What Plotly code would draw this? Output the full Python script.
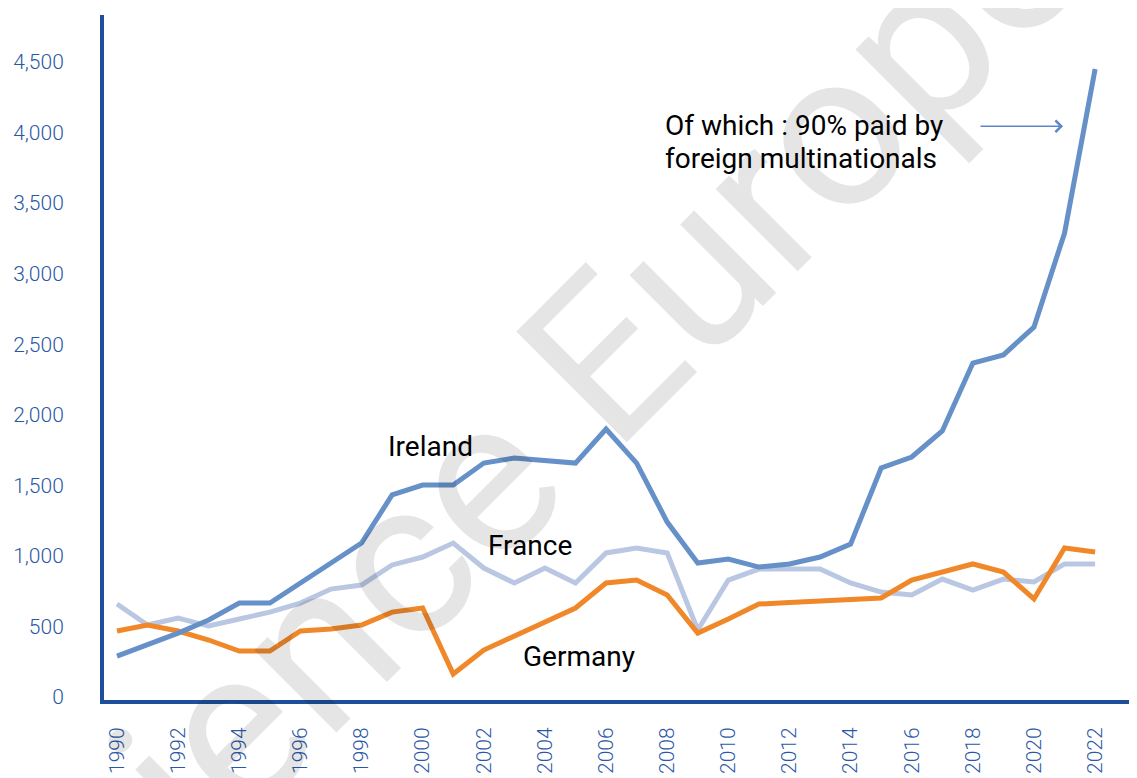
import plotly.graph_objects as go

years = list(range(1990, 2023))

ireland = [290, 368, 453, 546, 666, 666, 805, 950, 1091, 1432, 1502, 1502, 1658, 1694,
           1672, 1658, 1899, 1658, 1240, 950, 978, 921, 943, 992, 1084, 1623, 1701, 1885,
           2367, 2424, 2622, 3288, 4450]
france = [659, 510, 560, 503, 553, 602, 666, 765, 794, 936, 992, 1091, 914, 808,
          914, 808, 1021, 1056, 1021, 475, 829, 907, 907, 907, 808, 744, 723, 836,
          758, 836, 815, 943, 943]
germany = [468, 510, 468, 404, 326, 326, 468, 482, 510, 602, 631, 163, 333, 432,
           531, 631, 808, 829, 723, 453, 553, 659, 670, 680, 690, 702, 829, 886,
           943, 886, 695, 1056, 1028]

y_ticks = [0, 500, 1000, 1500, 2000, 2500, 3000, 3500, 4000, 4500]
x_ticks = list(range(1990, 2023, 2))

C_IRL = "#6690C8"
C_FRA = "#B9C7E3"
C_GER = "#F0882A"
AXIS = "#1F4E9A"
TICK = "#2B58A6"

# page body has an 8px margin; figure sized to fill the rest of the window
W, H = 1129, 770
ML, MR, MT, MB = 96, 0, 7, 78
PW, PH = W - ML - MR, H - MT - MB
OFF = 8

fig = go.Figure()
for name, vals, col in [("France", france, C_FRA), ("Germany", germany, C_GER), ("Ireland", ireland, C_IRL)]:
    fig.add_trace(go.Scatter(x=years, y=vals, mode="lines", name=name,
                             line=dict(color=col, width=5)))

txt_font = dict(family="Roboto", size=28, color="#000000")
ann = [
    dict(x=2000.27, y=1772, text="Ireland", showarrow=False, font=txt_font),
    dict(x=2003.5, y=1077, text="France", showarrow=False, font=txt_font),
    dict(x=2005.1, y=290, text="Germany", showarrow=False, font=txt_font),
    dict(x=2007.87, y=4049, text="Of which : 90% paid by", showarrow=False,
         xanchor="left", font=txt_font),
    dict(x=2007.87, y=3819, text="foreign multinationals", showarrow=False,
         xanchor="left", font=txt_font),
    dict(x=2020.95, y=4045, ax=-84, ay=0, text="", showarrow=True,
         arrowhead=4, arrowsize=1.5, arrowwidth=1.5, arrowcolor="#5B87C8"),
]

# watermark (centre given in window pixels)
cx, cy = 511, 452
ann.append(dict(xref="paper", yref="paper",
                x=(cx - OFF - ML) / PW, y=(H - MB - (cy - OFF)) / PH,
                text="Science Europe", showarrow=False, textangle=-45,
                font=dict(family="Roboto", size=220, color="rgba(0,0,0,0.1)")))

fig.update_layout(
    width=W, height=H,
    margin=dict(l=ML, r=MR, t=MT, b=MB),
    paper_bgcolor="white", plot_bgcolor="white",
    showlegend=False,
    annotations=ann,
)
fig.update_xaxes(
    range=[1989.575, 2023.37],
    tickvals=x_ticks, ticktext=[str(v) for v in x_ticks],
    tickangle=-90, showgrid=False, zeroline=False,
    showline=True, linecolor=AXIS, linewidth=4,
    ticks="", ticklabelstandoff=15,
    tickfont=dict(family="Roboto", size=21, color=TICK, weight=300),
)
fig.update_yaxes(
    range=[-21, 4833],
    tickvals=y_ticks, tickformat=",",
    showgrid=False, zeroline=False,
    showline=True, linecolor=AXIS, linewidth=4,
    ticks="", ticklabelstandoff=32,
    tickfont=dict(family="Roboto", size=21, color=TICK, weight=300),
)

fig.write_html("out.html")
